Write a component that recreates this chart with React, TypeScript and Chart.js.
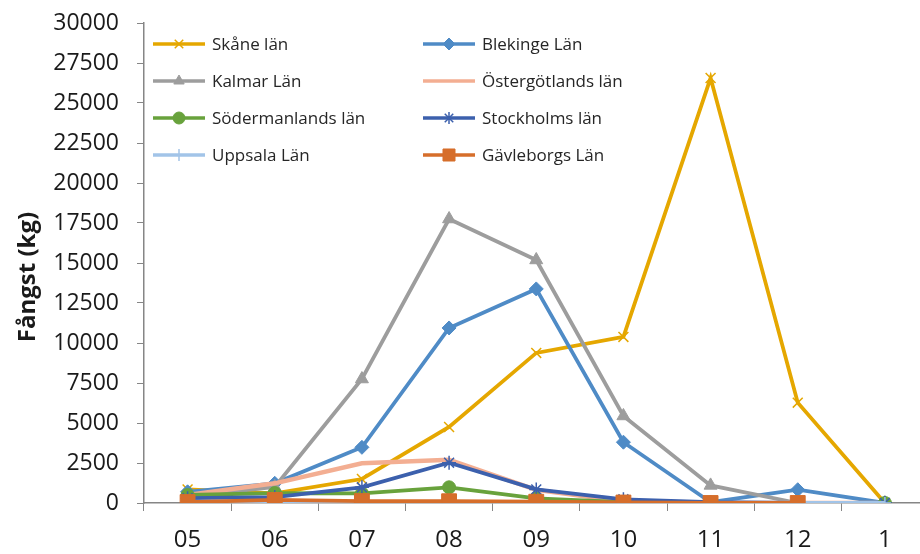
import React, { useEffect, useRef } from 'react';
import { Chart, registerables } from 'chart.js';
import { drawPoint } from 'chart.js/helpers';

Chart.register(...registerables);

// ---- data ----
const months = ['05', '06', '07', '08', '09', '10', '11', '12', '1'];
const seriesNames = [
  'Skåne län',
  'Blekinge Län',
  'Kalmar Län',
  'Östergötlands län',
  'Södermanlands län',
  'Stockholms län',
  'Uppsala Län',
  'Gävleborgs Län',
];
const skane = [850, 600, 1500, 4750, 9380, 10380, 26560, 6270, 0];
const blekinge = [700, 1230, 3480, 10940, 13380, 3800, 50, 830, 0];
const kalmar = [400, 1000, 7750, 17750, 15190, 5440, 1100, 0, 0];
const ostergotland = [500, 1230, 2480, 2700, 820, 100, 0, 0, 0];
const sodermanland = [500, 620, 600, 980, 290, 50, 0, 0, 0];
const stockholm = [300, 370, 980, 2520, 850, 230, 50, 0, 0];
const uppsala = [20, 40, 30, 20, 10, 0, 0, 0, 0];
const gavleborg = [60, 190, 120, 110, 80, 30, 0, 0, null];
const yMin = 0;
const yMax = 30000;
const yStep = 2500;
const yTitle = 'Fångst (kg)';

const seriesValues = [skane, blekinge, kalmar, ostergotland, sodermanland, stockholm, uppsala, gavleborg];

// ---- styles ----
const seriesColors = ['#E5A700', '#4F8BC6', '#9D9D9D', '#F3AE92', '#68A23C', '#3C60AD', '#A2C4E8', '#D66E2B'];
const seriesPointStyles = ['crossRot', 'rectRot', 'triangle', 'circle', 'circle', 'star', 'cross', 'rect'];
const seriesPointRadius = [7, 7, 7.5, 0, 6.5, 7, 6, 10.5];
const seriesPointBorder = [1.5, 1, 1, 1, 1, 1.5, 1.5, 1];
const FONT = '"Open Sans", "Noto Sans", sans-serif';

const insideLegend = {
  id: 'insideLegend',
  afterDraw(chart: any) {
    const ctx = chart.ctx as CanvasRenderingContext2D;
    ctx.save();
    chart.data.datasets.forEach((ds: any, i: number) => {
      const col = i % 2;
      const row = Math.floor(i / 2);
      const x0 = col === 0 ? 153 : 423;
      const y = 44 + row * 37;
      ctx.strokeStyle = ds.borderColor;
      ctx.lineWidth = 3.5;
      ctx.lineCap = 'butt';
      ctx.beginPath();
      ctx.moveTo(x0, y);
      ctx.lineTo(x0 + 52, y);
      ctx.stroke();
      if (ds.pointRadius > 0) {
        ctx.fillStyle = ds.pointBackgroundColor;
        ctx.strokeStyle = ds.pointBorderColor;
        ctx.lineWidth = ds.pointBorderWidth;
        const r = ds.pointStyle === 'rect' ? 8.5 : Math.min(ds.pointRadius, 6);
        drawPoint(ctx, { pointStyle: ds.pointStyle, rotation: 0, radius: r, borderWidth: ds.pointBorderWidth } as any, x0 + 26, y);
      }
      ctx.fillStyle = '#262626';
      ctx.font = `17px ${FONT}`;
      ctx.textAlign = 'left';
      ctx.textBaseline = 'middle';
      ctx.fillText(ds.label, x0 + 59, y + 1);
    });
    ctx.restore();
  },
};

const yTitlePlugin = {
  id: 'yTitlePlugin',
  afterDraw(chart: any) {
    const ctx = chart.ctx as CanvasRenderingContext2D;
    ctx.save();
    ctx.translate(28, 277);
    ctx.rotate(-Math.PI / 2);
    ctx.fillStyle = '#1a1a1a';
    ctx.font = `bold 24px ${FONT}`;
    ctx.textAlign = 'center';
    ctx.textBaseline = 'middle';
    ctx.fillText(yTitle, 0, 0);
    ctx.restore();
  },
};

export default function App() {
  const ref = useRef<HTMLCanvasElement | null>(null);

  useEffect(() => {
    if (!ref.current) return;
    const n = seriesNames.length;
    const chart = new Chart(ref.current, {
      type: 'line',
      data: {
        labels: months,
        datasets: seriesNames.map((name, i) => ({
          label: name,
          data: seriesValues[i] as any,
          borderColor: seriesColors[i],
          backgroundColor: seriesColors[i],
          pointBackgroundColor: seriesColors[i],
          pointBorderColor: seriesColors[i],
          pointStyle: seriesPointStyles[i] as any,
          pointRadius: seriesPointRadius[i],
          pointBorderWidth: seriesPointBorder[i],
          borderWidth: i === 3 ? 4.5 : 3.8,
          tension: 0,
          fill: false,
          spanGaps: false,
          order: n - 1 - i,
        })),
      },
      options: {
        animation: false,
        responsive: false,
        devicePixelRatio: 1,
        layout: { padding: { top: 23, right: 8.5, left: 0, bottom: 0 } },
        plugins: {
          legend: { display: false },
          tooltip: { enabled: false },
          title: { display: false },
        },
        scales: {
          x: {
            offset: true,
            grid: { offset: true, drawOnChartArea: false, tickLength: 8, color: '#868686', lineWidth: 1 },
            border: { color: '#868686', width: 1.5 },
            ticks: { color: '#1a1a1a', font: { family: FONT, size: 24 }, padding: 15, maxRotation: 0, autoSkip: false },
            afterFit: (s: any) => { s.height = 51; s.paddingLeft = 0; s.paddingRight = 0; },
          },
          y: {
            min: yMin,
            max: yMax,
            grid: { drawOnChartArea: false, tickLength: 7, color: '#868686', lineWidth: 1 },
            border: { color: '#868686', width: 1.5 },
            ticks: {
              stepSize: yStep,
              color: '#1a1a1a',
              font: { family: FONT, size: 23 },
              padding: 18,
              callback: (v: any) => String(v),
            },
            afterFit: (s: any) => { s.width = 144; s.paddingTop = 0; s.paddingBottom = 0; },
          },
        },
      },
      plugins: [insideLegend, yTitlePlugin],
    });
    return () => chart.destroy();
  }, []);

  return (
    <div style={{ position: 'absolute', left: 0, top: 0, width: 920, height: 554, overflow: 'hidden', background: '#fff' }}>
      <canvas ref={ref} width={940} height={554} style={{ display: 'block', width: 940, height: 554 }} />
    </div>
  );
}
